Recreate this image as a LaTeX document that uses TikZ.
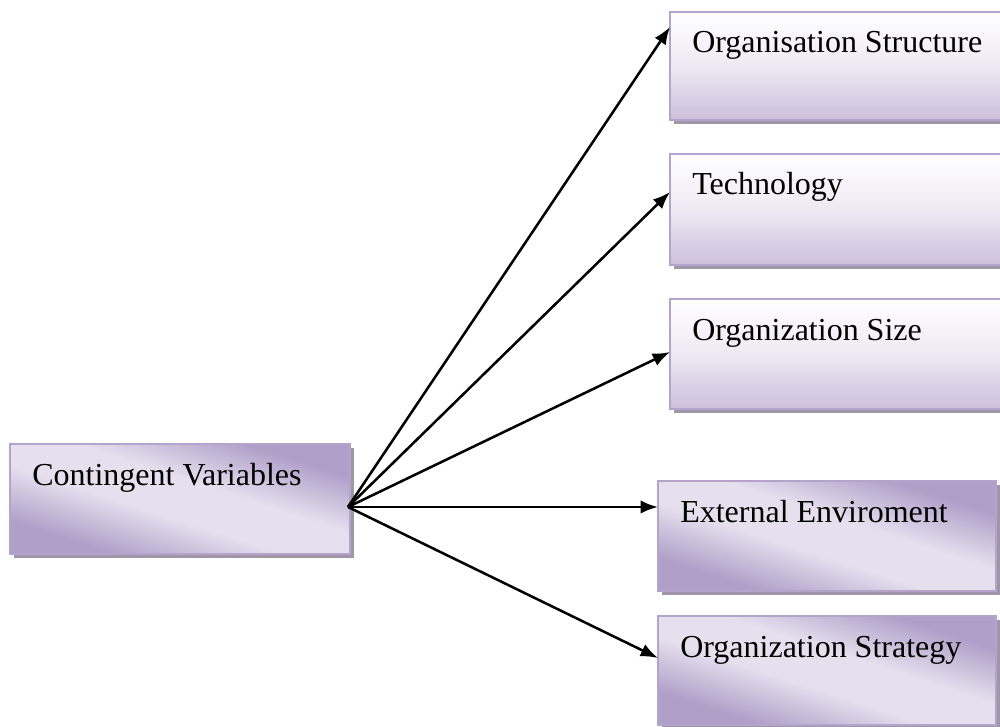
\documentclass[tikz,border=0pt]{standalone}
\usepackage{fontspec}
\setmainfont{Liberation Serif}
\usetikzlibrary{arrows.meta,shadows,calc}
\definecolor{bordc}{HTML}{B4A4CC}
\definecolor{shadc}{HTML}{9F97A8}
\definecolor{darkp}{HTML}{B09FC9}
\definecolor{lightp}{HTML}{E6E0EE}
\definecolor{botp}{HTML}{CDBFDC}
\pgfdeclareverticalshading{purpband}{100bp}{color(0bp)=(darkp); color(28bp)=(darkp); color(44bp)=(lightp); color(56bp)=(lightp); color(72bp)=(darkp); color(100bp)=(darkp)}
\tikzset{
  x=0.75pt, y=-0.75pt,
  boxbase/.style={draw=bordc, line width=1.1pt, anchor=north west, inner sep=0pt, outer sep=0pt,
    drop shadow={shadow xshift=3pt, shadow yshift=-3pt, fill=shadc, opacity=1}},
  vbox/.style={boxbase, top color=white, bottom color=botp, middle color=lightp!70!white},
  dbox/.style={boxbase, shading=purpband, shading angle=-18},
  lbl/.style={anchor=base west, inner sep=0pt, font=\fontsize{24pt}{28pt}\selectfont},
  conn/.style={line width=1.9pt, -{Latex[length=13pt,width=10pt]}}
}
\begin{document}
\begin{tikzpicture}
\useasboundingbox (0,0) rectangle (1000,727);
\clip (0,0) rectangle (1000,727);
\node[dbox, minimum width=255pt, minimum height=82.5pt] (cv) at (10,444) {};
\node[vbox, minimum width=255pt, minimum height=81pt] (b1) at (670,12) {};
\node[vbox, minimum width=255pt, minimum height=83.25pt] (b2) at (670,154) {};
\node[vbox, minimum width=255pt, minimum height=82.5pt] (b3) at (670,299) {};
\node[dbox, minimum width=253.5pt, minimum height=82.5pt] (b4) at (658,481) {};
\node[dbox, minimum width=253.5pt, minimum height=81.75pt] (b5) at (658,616) {};

\node[lbl] (tcv) at ($(cv.north west)+(22,41)$) {Contingent Variables};
\node[lbl] (t1) at ($(b1.north west)+(22,41)$) {Organisation Structure};
\node[lbl] (t2) at ($(b2.north west)+(22,41)$) {Technology};
\node[lbl] (t3) at ($(b3.north west)+(22,41)$) {Organization Size};
\node[lbl] (t4) at ($(b4.north west)+(22,41)$) {External Enviroment};
\node[lbl] (t5) at ($(b5.north west)+(22,41)$) {Organization Strategy};

\coordinate (src) at ($(cv.north east)+(-2,63)$);
\coordinate (e1) at ($(b1.north west)+(0,15)$);
\coordinate (e2) at ($(b2.north west)+(0,38)$);
\coordinate (e3) at ($(b3.north west)+(0,53)$);
\coordinate (e4) at ($(b4.north west)+(0,26)$);
\coordinate (e5) at ($(b5.north west)+(0,42)$);
\foreach \e in {e1,e2,e3,e4,e5} \draw[conn] (src) -- (\e);
\end{tikzpicture}
\end{document}
